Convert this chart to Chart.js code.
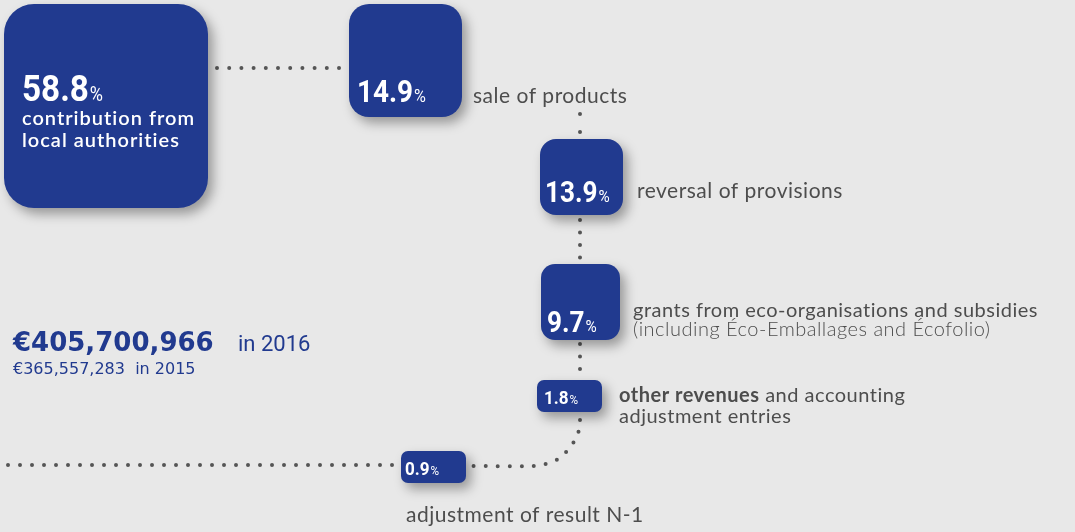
<!DOCTYPE html>
<html>
<head>
<meta charset="utf-8">
<script src="https://cdn.jsdelivr.net/npm/chart.js@4.4.0/dist/chart.umd.min.js"></script>
<style>
    html, body { margin: 0; padding: 0; background: #e8e8e8; }
    canvas { display: block; }
</style>
</head>
<body>
<canvas id="chart" width="1075" height="532"></canvas>
<script>
// --- VERİ ---
const categories = [
    ['contribution from', 'local authorities'],
    ['sale of products'],
    ['reversal of provisions'],
    ['grants from eco-organisations and subsidies', '(including Éco-Emballages and Écofolio)'],
    ['*other revenues* and accounting', 'adjustment entries'],
    ['adjustment of result N-1']
];
const shares = [58.8, 14.9, 13.9, 9.7, 1.8, 0.9];
const totalYears = [2016, 2015];
const totals = [405700966, 365557283];

// --- RENKLER ---
const BLUE = '#213a8f';
const GREY = '#4d4d4d';
const DOT = '#555555';

// --- YERLEŞİM (grafik birimi = 1px, 1075 x 532) ---
const boxLayout = [
    { cx: 106,   cy: 106,   w: 204, h: 204, r: 30, numX: 22,  numY: 101, numSize: 37, pctSize: 20 },
    { cx: 405.5, cy: 60.5,  w: 113, h: 113, r: 20, numX: 357, numY: 102, numSize: 31, pctSize: 18 },
    { cx: 581.5, cy: 177,   w: 83,  h: 76,  r: 16, numX: 545, numY: 202, numSize: 29, pctSize: 17 },
    { cx: 580.5, cy: 302,   w: 79,  h: 76,  r: 14, numX: 547, numY: 332, numSize: 29, pctSize: 17 },
    { cx: 569.5, cy: 396,   w: 65,  h: 32,  r: 7,  numX: 544, numY: 404, numSize: 19, pctSize: 13 },
    { cx: 433.5, cy: 467,   w: 65,  h: 32,  r: 7,  numX: 405, numY: 475, numSize: 19, pctSize: 13 }
];

const labelLayout = [
    { x: 22,  y: 125, lh: 22, size: 20, ls: 1.0, color: '#ffffff', weight: 600 },
    { x: 473, y: 103, lh: 20, size: 21, ls: 0.5, color: GREY, weight: 400 },
    { x: 637, y: 198, lh: 20, size: 21, ls: 0.5, color: GREY, weight: 400 },
    { x: 633, y: 317, lh: 19, size: 20, ls: 0.5, color: GREY, weight: 400, light2: true },
    { x: 619, y: 402, lh: 21, size: 20, ls: 0.5, color: GREY, weight: 400 },
    { x: 406, y: 522, lh: 20, size: 21, ls: 0.5, color: GREY, weight: 400 }
];

const connectors = [
    { pts: [[217, 68], [341, 68]], gap: 12.2 },
    { pts: [[580, 114], [580, 133]], gap: 18 },
    { pts: [[580, 220], [580, 258]], gap: 12.5 },
    { pts: [[580, 344], [580, 370]], gap: 12.5 },
    { pts: [[580, 420], [579, 430], [575, 440], [568, 450], [558, 459], [546, 464], [534, 466], [470, 466]], gap: 12, tension: 0.3 },
    { pts: [[8, 465], [398, 465]], gap: 12 }
];

const LABEL_FONT = "Lato, 'Open Sans', sans-serif";
const NUM_FONT = "Roboto, sans-serif";

const drawRich = (ctx, text, x, y, size, weight) => {
    // *kalın* parçaları ayır
    const parts = text.split('*');
    let cx = x;
    parts.forEach((p, i) => {
        const w = i % 2 === 1 ? 700 : weight;
        ctx.font = `${w} ${size}px ${LABEL_FONT}`;
        ctx.fillText(p, cx, y);
        cx += ctx.measureText(p).width;
    });
};

const infographic = {
    id: 'infographic',
    afterDatasetsDraw(chart) {
        const ctx = chart.ctx;
        const xs = chart.scales.x;
        const ys = chart.scales.y;
        const meta = chart.getDatasetMeta(0);

        // kutular
        meta.data.forEach((pt, i) => {
            const b = boxLayout[i];
            const w = xs.getPixelForValue(b.w) - xs.getPixelForValue(0);
            const h = ys.getPixelForValue(b.h) - ys.getPixelForValue(0);
            ctx.save();
            ctx.shadowColor = 'rgba(0, 0, 0, 0.35)';
            ctx.shadowBlur = 12;
            ctx.shadowOffsetX = 5;
            ctx.shadowOffsetY = 6;
            ctx.fillStyle = BLUE;
            ctx.beginPath();
            ctx.roundRect(pt.x - w / 2, pt.y - h / 2, w, h, b.r);
            ctx.fill();
            ctx.restore();
        });

        ctx.save();
        ctx.textBaseline = 'alphabetic';
        ctx.textAlign = 'left';

        // yüzdeler (biraz dar yazı)
        shares.forEach((v, i) => {
            const b = boxLayout[i];
            const x = xs.getPixelForValue(b.numX);
            const y = ys.getPixelForValue(b.numY);
            const txt = v.toFixed(1);
            ctx.save();
            ctx.translate(x, y);
            ctx.scale(0.9, 1);
            ctx.fillStyle = '#ffffff';
            ctx.font = `bold ${b.numSize}px ${NUM_FONT}`;
            ctx.fillText(txt, 0, 0);
            const tw = ctx.measureText(txt).width;
            ctx.font = `${b.pctSize}px ${NUM_FONT}`;
            ctx.fillText('%', tw + 1, 0);
            ctx.restore();
        });

        // etiketler
        categories.forEach((lines, i) => {
            const l = labelLayout[i];
            ctx.fillStyle = l.color;
            ctx.letterSpacing = l.ls + 'px';
            lines.forEach((line, j) => {
                const wt = (l.light2 && j === 1) ? 300 : l.weight;
                drawRich(ctx, line, xs.getPixelForValue(l.x), ys.getPixelForValue(l.y + j * l.lh), l.size, wt);
            });
        });
        ctx.letterSpacing = '0px';

        // toplamlar
        const fmt = (n) => '€' + n.toLocaleString('en-US');
        ctx.fillStyle = BLUE;
        ctx.font = "bold 26px 'DejaVu Sans'";
        ctx.fillText(fmt(totals[0]), xs.getPixelForValue(13), ys.getPixelForValue(351));
        ctx.font = `22px ${NUM_FONT}`;
        ctx.fillText('in ' + totalYears[0], xs.getPixelForValue(238), ys.getPixelForValue(351));
        ctx.font = "16px 'DejaVu Sans'";
        ctx.fillText(fmt(totals[1]) + '  in ' + totalYears[1], xs.getPixelForValue(13), ys.getPixelForValue(374));
        ctx.restore();
    }
};

const datasets = [{
    label: 'shares',
    data: shares.map((v, i) => ({ x: boxLayout[i].cx, y: boxLayout[i].cy, v: v })),
    pointRadius: 0,
    showLine: false
}];

connectors.forEach((c, i) => {
    datasets.push({
        label: 'link' + i,
        data: c.pts.map(p => ({ x: p[0], y: p[1] })),
        showLine: true,
        pointRadius: 0,
        borderColor: DOT,
        borderWidth: 4,
        borderDash: [0, c.gap],
        borderCapStyle: 'round',
        tension: c.tension || 0,
        fill: false
    });
});

new Chart(document.getElementById('chart'), {
    type: 'scatter',
    data: { datasets: datasets },
    options: {
        responsive: false,
        animation: false,
        events: [],
        layout: { padding: 0 },
        scales: {
            x: { type: 'linear', min: 0, max: 1075, display: false },
            y: { type: 'linear', min: 0, max: 532, reverse: true, display: false }
        },
        plugins: {
            legend: { display: false },
            tooltip: { enabled: false }
        }
    },
    plugins: [infographic]
});
</script>
</body>
</html>
